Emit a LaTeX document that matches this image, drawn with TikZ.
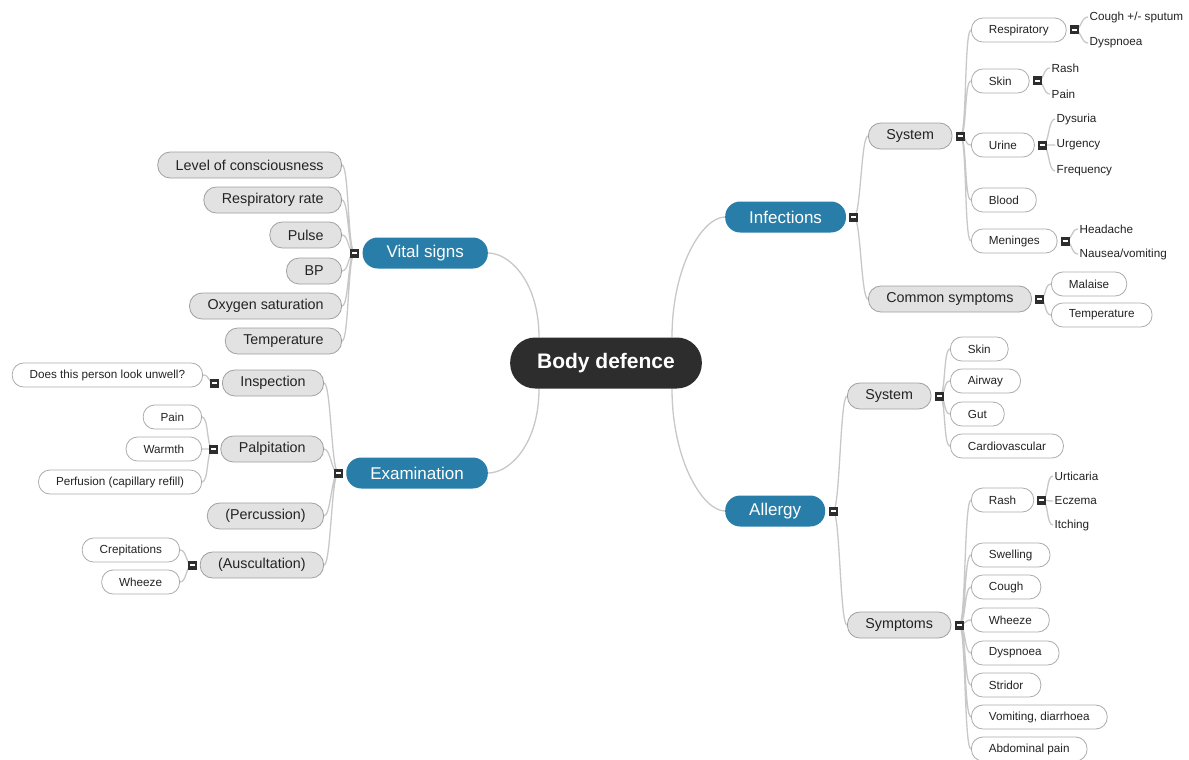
\documentclass[tikz,border=0pt]{standalone}
\usepackage{fontspec}
\setmainfont{Liberation Sans}
\usepackage{tikz}
\usetikzlibrary{positioning,backgrounds}

\definecolor{rootgray}{RGB}{45,45,45}
\definecolor{topicblue}{RGB}{40,126,168}
\definecolor{subfill}{RGB}{226,226,226}
\definecolor{subline}{RGB}{160,160,160}
\definecolor{leafline}{RGB}{172,172,172}
\definecolor{linkgray}{RGB}{200,200,200}
\definecolor{txtgray}{RGB}{35,35,35}

\begin{document}
\begin{tikzpicture}[x=1pt, y=1pt,
  root/.style={fill=rootgray, text=white, font=\fontsize{21}{24}\selectfont\bfseries, rounded corners=25pt, minimum height=51pt, inner xsep=27pt, inner ysep=0pt},
  topic/.style={fill=topicblue, text=white, font=\fontsize{17}{20}\selectfont, rounded corners=15pt, minimum height=31pt, inner xsep=24pt, inner ysep=0pt},
  sub/.style={fill=subfill, draw=subline, line width=0.8pt, text=txtgray, font=\fontsize{14.3}{17}\selectfont, rounded corners=12.5pt, minimum height=26pt, inner xsep=18pt, inner ysep=0pt},
  leaf/.style={fill=white, draw=leafline, line width=0.8pt, text=txtgray, font=\fontsize{11.7}{14}\selectfont, rounded corners=11.5pt, minimum height=24pt, inner xsep=17.5pt, inner ysep=0pt},
  item/.style={text=txtgray, font=\fontsize{11.7}{14}\selectfont, inner xsep=1.5pt, inner ysep=0pt},
  minus/.style={fill=rootgray, minimum size=9pt, inner sep=0pt, path picture={\draw[white, line width=1.6pt] ([xshift=-2.5pt]path picture bounding box.center) -- ([xshift=2.5pt]path picture bounding box.center);}},
  link/.style={draw=linkgray, line width=1.3pt},
  rlink/.style={link, to path={.. controls +(7,0) and +(-7,0) .. (\tikztotarget)}},
  llink/.style={link, to path={.. controls +(-7,0) and +(7,0) .. (\tikztotarget)}},
]
\useasboundingbox (0,0) rectangle (1189,-760);

% centre and main topics
\node[root] (BD) at (606,-363) {Body defence};
\node[topic, anchor=east] (VS) at (488,-253) {Vital signs};
\node[topic, anchor=east] (EX) at (488,-473) {Examination};
\node[topic, anchor=west] (INF) at (725,-217) {Infections};
\node[topic, anchor=west] (ALG) at (725,-511) {Allergy};
\node[minus, left=3pt of VS] (VSm) {};
\node[minus, left=3pt of EX] (EXm) {};
\node[minus, right=3pt of INF] (INFm) {};
\node[minus, right=3pt of ALG] (ALGm) {};

% vital signs
\node[sub, anchor=east] (LOC) at (342,-165) {Level of consciousness};
\node[sub, anchor=east] (RR) at (342,-200) {Respiratory rate};
\node[sub, anchor=east] (PU) at (342,-235) {Pulse};
\node[sub, anchor=east] (BP) at (342,-271) {BP};
\node[sub, anchor=east] (OS) at (342,-306) {Oxygen saturation};
\node[sub, anchor=east] (TMP) at (342,-341) {Temperature};

% examination
\node[sub, anchor=east] (INS) at (324,-383) {Inspection};
\node[sub, anchor=east] (PAL) at (324,-449) {Palpitation};
\node[sub, anchor=east] (PER) at (324,-516) {(Percussion)};
\node[sub, anchor=east] (AUS) at (324,-565) {(Auscultation)};
\node[minus, left=2.5pt of INS] (INSm) {};
\node[minus, left=2.5pt of PAL] (PALm) {};
\node[minus, left=2.5pt of AUS] (AUSm) {};
\node[leaf, anchor=east] (UNW) at (203,-375) {Does this person look unwell?};
\node[leaf, anchor=east] (PPN) at (202,-417) {Pain};
\node[leaf, anchor=east] (WRM) at (202,-449) {Warmth};
\node[leaf, anchor=east] (PRF) at (202,-482) {Perfusion (capillary refill)};
\node[leaf, anchor=east] (CRP) at (180,-550) {Crepitations};
\node[leaf, anchor=east] (EWHZ) at (180,-582) {Wheeze};

% infections
\node[sub, anchor=west] (ISYS) at (868,-136) {System};
\node[sub, anchor=west] (CS) at (868,-299) {Common symptoms};
\node[minus, right=3pt of ISYS] (ISYSm) {};
\node[minus, right=3pt of CS] (CSm) {};
\node[leaf, anchor=west] (RESP) at (971,-30) {Respiratory};
\node[leaf, anchor=west] (ISKN) at (971,-81) {Skin};
\node[leaf, anchor=west] (URN) at (971,-145) {Urine};
\node[leaf, anchor=west] (BLD) at (971,-200) {Blood};
\node[leaf, anchor=west] (MEN) at (971,-241) {Meninges};
\node[minus, right=3pt of RESP] (RESPm) {};
\node[minus, right=3pt of ISKN] (ISKNm) {};
\node[minus, right=3pt of URN] (URNm) {};
\node[minus, right=3pt of MEN] (MENm) {};
\node[item, anchor=west] (CGH) at (1088,-17) {Cough +/- sputum};
\node[item, anchor=west] (IDYS) at (1088,-43) {Dyspnoea};
\node[item, anchor=west] (IRSH) at (1050,-68) {Rash};
\node[item, anchor=west] (IPN) at (1050,-94) {Pain};
\node[item, anchor=west] (DYS) at (1055,-119) {Dysuria};
\node[item, anchor=west] (URG) at (1055,-145) {Urgency};
\node[item, anchor=west] (FRQ) at (1055,-171) {Frequency};
\node[item, anchor=west] (HDA) at (1078,-229) {Headache};
\node[item, anchor=west] (NAU) at (1078,-254) {Nausea/vomiting};
\node[leaf, anchor=west] (MAL) at (1051,-284) {Malaise};
\node[leaf, anchor=west] (CTMP) at (1051,-315) {Temperature};

% allergy
\node[sub, anchor=west] (ASYS) at (847,-396) {System};
\node[sub, anchor=west] (SYM) at (847,-625) {Symptoms};
\node[minus, right=3pt of ASYS] (ASYSm) {};
\node[minus, right=3pt of SYM] (SYMm) {};
\node[leaf, anchor=west] (ASKN) at (950,-349) {Skin};
\node[leaf, anchor=west] (AIR) at (950,-381) {Airway};
\node[leaf, anchor=west] (GUT) at (950,-414) {Gut};
\node[leaf, anchor=west] (CARD) at (950,-446) {Cardiovascular};
\node[leaf, anchor=west] (ARSH) at (971,-500) {Rash};
\node[leaf, anchor=west] (SWL) at (971,-555) {Swelling};
\node[leaf, anchor=west] (COU) at (971,-587) {Cough};
\node[leaf, anchor=west] (AWHZ) at (971,-620) {Wheeze};
\node[leaf, anchor=west] (ADYS) at (971,-653) {Dyspnoea};
\node[leaf, anchor=west] (STR) at (971,-685) {Stridor};
\node[leaf, anchor=west] (VOM) at (971,-717) {Vomiting, diarrhoea};
\node[leaf, anchor=west] (ABD) at (971,-749) {Abdominal pain};
\node[minus, right=3pt of ARSH] (ARSHm) {};
\node[item, anchor=west] (URT) at (1053,-476) {Urticaria};
\node[item, anchor=west] (ECZ) at (1053,-501) {Eczema};
\node[item, anchor=west] (ITC) at (1053,-525) {Itching};

% connectors
\begin{scope}[on background layer]
\fill[white] (0,0) rectangle (1189,-760);
\draw[link] ([xshift=-67pt]BD.north) .. controls +(0,55) and +(22,0) .. (VS.east);
\draw[link] ([xshift=-67pt]BD.south) .. controls +(0,-55) and +(22,0) .. (EX.east);
\draw[link] ([xshift=66pt]BD.north) .. controls +(0,72) and +(-22,0) .. (INF.west);
\draw[link] ([xshift=66pt]BD.south) .. controls +(0,-72) and +(-22,0) .. (ALG.west);
\draw[llink] (VSm.center) to (LOC.east) (VSm.center) to (RR.east) (VSm.center) to (PU.east)
  (VSm.center) to (BP.east) (VSm.center) to (OS.east) (VSm.center) to (TMP.east);
\draw[llink] (EXm.center) to (INS.east) (EXm.center) to (PAL.east) (EXm.center) to (PER.east) (EXm.center) to (AUS.east);
\draw[llink] (INSm.center) to (UNW.east);
\draw[llink] (PALm.center) to (PPN.east) (PALm.center) to (WRM.east) (PALm.center) to (PRF.east);
\draw[llink] (AUSm.center) to (CRP.east) (AUSm.center) to (EWHZ.east);
\draw[rlink] (INFm.center) to (ISYS.west) (INFm.center) to (CS.west);
\draw[rlink] (ISYSm.center) to (RESP.west) (ISYSm.center) to (ISKN.west) (ISYSm.center) to (URN.west)
  (ISYSm.center) to (BLD.west) (ISYSm.center) to (MEN.west);
\draw[rlink] (RESPm.center) to (CGH.west) (RESPm.center) to (IDYS.west);
\draw[rlink] (ISKNm.center) to (IRSH.west) (ISKNm.center) to (IPN.west);
\draw[rlink] (URNm.center) to (DYS.west) (URNm.center) to (URG.west) (URNm.center) to (FRQ.west);
\draw[rlink] (MENm.center) to (HDA.west) (MENm.center) to (NAU.west);
\draw[rlink] (CSm.center) to (MAL.west) (CSm.center) to (CTMP.west);
\draw[rlink] (ALGm.center) to (ASYS.west) (ALGm.center) to (SYM.west);
\draw[rlink] (ASYSm.center) to (ASKN.west) (ASYSm.center) to (AIR.west) (ASYSm.center) to (GUT.west) (ASYSm.center) to (CARD.west);
\draw[rlink] (SYMm.center) to (ARSH.west) (SYMm.center) to (SWL.west) (SYMm.center) to (COU.west) (SYMm.center) to (AWHZ.west)
  (SYMm.center) to (ADYS.west) (SYMm.center) to (STR.west) (SYMm.center) to (VOM.west) (SYMm.center) to (ABD.west);
\draw[rlink] (ARSHm.center) to (URT.west) (ARSHm.center) to (ECZ.west) (ARSHm.center) to (ITC.west);
\end{scope}
\end{tikzpicture}
\end{document}
